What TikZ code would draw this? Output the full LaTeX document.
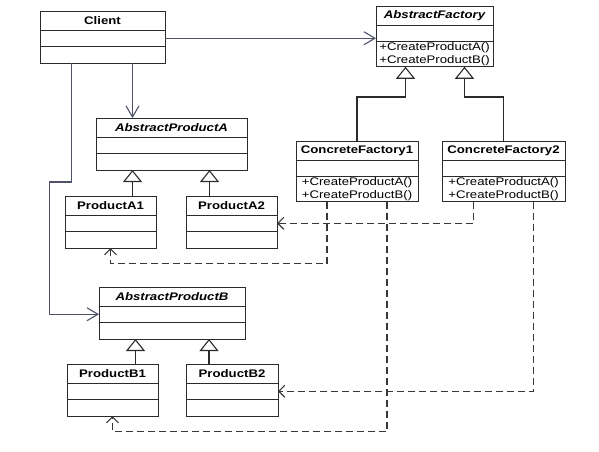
\documentclass[tikz,border=0pt]{standalone}
\usepackage{fontspec}
\setmainfont{Liberation Sans}[FakeStretch=1.2]
\usetikzlibrary{arrows.meta, positioning}

\definecolor{umlline}{HTML}{2B2B2B}
\definecolor{clientline}{HTML}{4F5268}
\definecolor{depline}{HTML}{383838}

\begin{document}
\begin{tikzpicture}[x=1pt, y=-1pt,
		classbox/.style={draw=umlline, line width=1pt, outer sep=0pt, inner sep=1pt,
			font=\fontsize{11}{13}\selectfont},
		classtitle/.style={classbox, anchor=north west, minimum height=19pt},
		classrow/.style={classbox, minimum height=16.5pt},
		assoc/.style={draw=clientline, line width=1.1pt, -{Straight Barb[length=11pt, width=13pt]}},
		inherit/.style={draw=umlline, line width=1.1pt, -{Triangle[open, length=12pt, width=19pt]}},
		dep/.style={draw=depline, line width=1.1pt, dash pattern=on 7pt off 4pt,
			-{Straight Barb[length=6pt, width=12pt]}}]
		\useasboundingbox (0,0) rectangle (599,451);
		
		% name, top left, width, title, operations
		\def\umlclass#1#2#3#4#5{%
			\node [classtitle, minimum width=#3] (#1) at #2 {#4};
			\node [classrow, minimum width=#3, below=0pt of #1] (#1-attr) {};
			\node [classrow, minimum width=#3, below=0pt of #1-attr, align=left] (#1-ops) {#5};
		}
		\def\ops{+CreateProductA()\\+CreateProductB()}
		
		\begin{scope}
			\umlclass{client}{(40,11)}{125pt}{\bfseries Client}{}
			\umlclass{af}{(376,6)}{117pt}{\bfseries\itshape AbstractFactory}{\ops}
			\umlclass{cf1}{(296,141)}{122pt}{\bfseries ConcreteFactory1}{\ops}
			\umlclass{cf2}{(442,141)}{123pt}{\bfseries ConcreteFactory2}{\ops}
		\end{scope}
		
		\begin{scope}
			\umlclass{apa}{(96,118)}{151pt}{\bfseries\itshape AbstractProductA}{}
			\umlclass{pa1}{(65,196)}{91pt}{\bfseries ProductA1}{}
			\umlclass{pa2}{(186,196)}{91pt}{\bfseries ProductA2}{}
			\umlclass{apb}{(99,287)}{146pt}{\bfseries\itshape AbstractProductB}{}
			\umlclass{pb1}{(67,364)}{91pt}{\bfseries ProductB1}{}
			\umlclass{pb2}{(186,364)}{92pt}{\bfseries ProductB2}{}
		\end{scope}
		
		% client associations
		\begin{scope}
			\draw [assoc] (client-attr.east) -- (client-attr.east -| af.west);
			\draw [assoc] ([xshift=30pt]client-ops.south) -- ([xshift=30pt]client-ops.south |- apa.north);
			\draw [assoc] ([xshift=-31pt]client-ops.south) |- ++(-22,119) |- (apb-attr.west);
		\end{scope}
		
		% generalisations
		\begin{scope}
			\draw [inherit] (cf1.north) -- ++(0,-44) -| ([xshift=-29pt]af-ops.south);
			\draw [inherit] (cf2.north) -- ++(0,-44) -| ([xshift=30pt]af-ops.south);
			\draw [inherit] ([xshift=22pt]pa1.north) -- ([xshift=22pt]pa1.north |- apa-ops.south);
			\draw [inherit] ([xshift=-22pt]pa2.north) -- ([xshift=-22pt]pa2.north |- apa-ops.south);
			\draw [inherit] ([xshift=23pt]pb1.north) -- ([xshift=23pt]pb1.north |- apb-ops.south);
			\draw [inherit] ([xshift=-23pt]pb2.north) -- ([xshift=-23pt]pb2.north |- apb-ops.south);
		\end{scope}
		
		% creates
		\begin{scope}
			\draw [dep] ([xshift=-30pt]cf1-ops.south) -- ++(0,62) -| (pa1-ops.south);
			\draw [dep] ([xshift=30pt]cf1-ops.south) -- ++(0,230) -| (pb1-ops.south);
			\draw [dep] ([xshift=-30pt]cf2-ops.south) |- (pa2-attr.east);
			\draw [dep] ([xshift=30pt]cf2-ops.south) |- (pb2-attr.east);
		\end{scope}
	\end{tikzpicture}
\end{document}
